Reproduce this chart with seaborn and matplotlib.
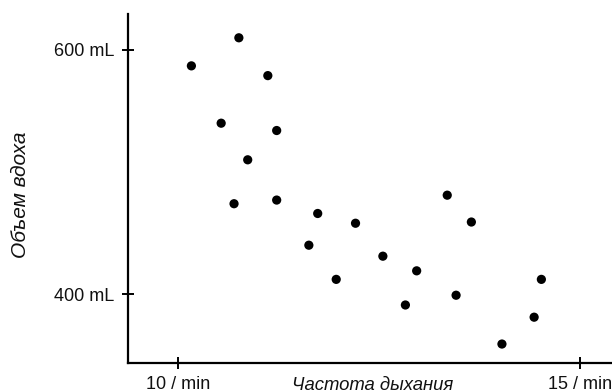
import matplotlib
matplotlib.use("Agg")
import matplotlib.pyplot as plt
import seaborn as sns
import pandas as pd

# Breathing rate (per minute) and tidal volume (mL) for each observation
rate = [10.17, 10.76, 11.12, 10.54, 11.23, 10.87, 10.70, 11.23, 11.74, 11.63,
        12.21, 11.97, 12.55, 12.97, 12.83, 13.35, 13.65, 13.46, 14.03, 14.43, 14.52]
volume = [587, 610, 579, 540, 534, 510, 474, 477, 466, 440,
          458, 412, 431, 419, 391, 481, 459, 399, 359, 381, 412]

x_ticks = [10, 15]
x_tick_labels = ["10 / min", "15 / min"]
y_ticks = [400, 600]
y_tick_labels = ["400 mL", "600 mL"]

df = pd.DataFrame({"rate": rate, "volume": volume})

sns.set_theme(style="white")
plt.rcParams["font.family"] = ["Liberation Sans", "DejaVu Sans"]

fig = plt.figure(figsize=(6.12, 3.92), dpi=100)
ax = fig.add_axes([128 / 612, 1 - 362.7 / 392, 1 - 128 / 612, (362.7 - 14) / 392])

sns.scatterplot(data=df, x="rate", y="volume", ax=ax, color="black",
                s=44, edgecolor="none", linewidth=0)

ax.set_xlim(9.382, 15.398)
ax.set_ylim(343.7, 629.5)

ax.set_xticks(x_ticks)
ax.set_xticklabels(x_tick_labels)
ax.set_yticks(y_ticks)
ax.set_yticklabels(y_tick_labels)

for side in ["top", "right"]:
    ax.spines[side].set_visible(False)
for side in ["left", "bottom"]:
    ax.spines[side].set_color("black")
    ax.spines[side].set_linewidth(1.6)

ax.tick_params(axis="both", which="major", bottom=True, left=True,
               direction="inout", length=8.6, width=1.4,
               color="black", labelsize=13, labelcolor="#111111")
ax.tick_params(axis="x", pad=5)
ax.tick_params(axis="y", pad=5.5)

ax.set_xlabel("Частота дыхания", fontsize=13.3, fontstyle="italic", color="#111111")
ax.xaxis.set_label_coords(0.505, -0.066)
ax.xaxis.label.set_verticalalignment("center")

ax.set_ylabel("Объем вдоха", fontsize=15, fontstyle="italic", color="#111111")
ax.yaxis.set_label_coords(-(128 - 21) / 484, 0.481)
ax.yaxis.label.set_verticalalignment("center")

fig.savefig("out.png", dpi=100)
